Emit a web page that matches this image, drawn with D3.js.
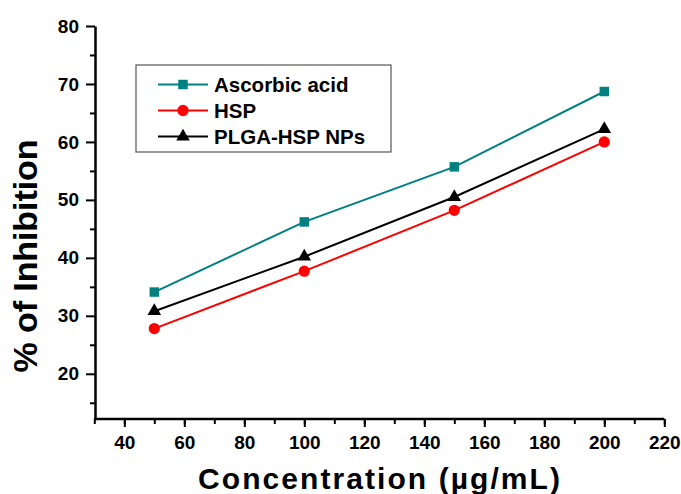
<!DOCTYPE html>
<html>
<head>
<meta charset="utf-8">
<script src="https://cdn.jsdelivr.net/npm/d3@7"></script>
<style>
  body { margin: 0; background: #fff; }
  text { font-family: "Liberation Sans", Arial, sans-serif; font-weight: bold; }
</style>
</head>
<body>
<div id="chart"></div>
<script>
// chart data
var concentrations = [50, 100, 150, 200];
var ascorbicAcid = [34.1, 46.2, 55.7, 68.7];
var hsp = [27.8, 37.7, 48.2, 60.0];
var plgaHspNps = [30.8, 40.2, 50.5, 62.2];
var seriesNames = ["Ascorbic acid", "HSP", "PLGA-HSP NPs"];
var xTicks = [40, 60, 80, 100, 120, 140, 160, 180, 200, 220];
var yTicks = [20, 30, 40, 50, 60, 70, 80];

function init() {
    var width = 681, height = 494;

    var svg = d3.select("#chart")
        .append("svg")
        .attr("width", width)
        .attr("height", height);

    // scales
    var xScale = d3.scaleLinear().domain([30, 220]).range([94.3, 664.3]);
    var yScale = d3.scaleLinear().domain([12.2, 80]).range([419, 26]);

    var series = [
        { name: seriesNames[0], values: ascorbicAcid, color: "#008080", symbol: d3.symbolSquare, size: 90 },
        { name: seriesNames[1], values: hsp, color: "#ff0000", symbol: d3.symbolCircle, size: 100 },
        { name: seriesNames[2], values: plgaHspNps, color: "#000000", symbol: d3.symbolTriangle, size: 80 }
    ];

    // minor ticks
    svg.append("g")
        .attr("transform", "translate(0,419)")
        .call(d3.axisBottom(xScale).tickValues(d3.range(30, 221, 10)).tickSize(5).tickFormat(""))
        .call(g => g.select(".domain").remove())
        .selectAll("line").attr("stroke-width", 2);
    svg.append("g")
        .attr("transform", "translate(95,0)")
        .call(d3.axisLeft(yScale).tickValues(d3.range(15, 80, 10)).tickSize(5).tickFormat(""))
        .call(g => g.select(".domain").remove())
        .selectAll("line").attr("stroke-width", 2);

    // x axis
    var xAxis = svg.append("g")
        .attr("transform", "translate(0,419)")
        .call(d3.axisBottom(xScale).tickValues(xTicks).tickSizeInner(8).tickSizeOuter(0).tickPadding(9));
    xAxis.select(".domain").attr("stroke-width", 2.5).attr("d", "M94.3,0H664.3");
    xAxis.selectAll("line").attr("stroke-width", 2);
    xAxis.selectAll("text").style("font-size", "19px").attr("fill", "#000");

    // y axis
    var yAxis = svg.append("g")
        .attr("transform", "translate(95,0)")
        .call(d3.axisLeft(yScale).tickValues(yTicks).tickSizeInner(9).tickSizeOuter(0).tickPadding(7));
    yAxis.select(".domain").attr("stroke-width", 2.5);
    yAxis.selectAll("line").attr("stroke-width", 2);
    yAxis.selectAll("text").style("font-size", "19px").attr("fill", "#000");

    // axis titles
    svg.append("text")
        .attr("x", 379)
        .attr("y", 489)
        .attr("text-anchor", "middle")
        .style("font-size", "30px")
        .attr("textLength", 362)
        .text("Concentration (\u00b5g/mL)");
    svg.append("text")
        .attr("transform", "translate(37,256) rotate(-90)")
        .attr("text-anchor", "middle")
        .style("font-size", "34px")
        .attr("textLength", 233)
        .text("% of Inhibition");

    // lines and markers
    var line = d3.line()
        .x((d, i) => xScale(concentrations[i]))
        .y(d => yScale(d));

    series.forEach(s => {
        svg.append("path")
            .datum(s.values)
            .attr("fill", "none")
            .attr("stroke", s.color)
            .attr("stroke-width", 2)
            .attr("d", line);
        svg.selectAll(null)
            .data(s.values)
            .enter()
            .append("path")
            .attr("transform", (d, i) => `translate(${xScale(concentrations[i])},${yScale(d)})`)
            .attr("d", d3.symbol().type(s.symbol).size(s.size))
            .attr("fill", s.color);
    });

    // legend
    var legend = svg.append("g");
    legend.append("rect")
        .attr("x", 136)
        .attr("y", 65)
        .attr("width", 255)
        .attr("height", 87)
        .attr("fill", "none")
        .attr("stroke", "#555")
        .attr("stroke-width", 1.2);

    series.forEach((s, i) => {
        var y = 84.5 + i * 26;
        legend.append("line")
            .attr("x1", 158).attr("x2", 208)
            .attr("y1", y).attr("y2", y)
            .attr("stroke", s.color)
            .attr("stroke-width", 2);
        legend.append("path")
            .attr("transform", `translate(183,${y})`)
            .attr("d", d3.symbol().type(s.symbol).size(s.size))
            .attr("fill", s.color);
        legend.append("text")
            .attr("x", 214)
            .attr("y", y + 7)
            .style("font-size", "20.5px")
            .text(s.name);
    });
}

window.onload = init;
</script>
</body>
</html>
